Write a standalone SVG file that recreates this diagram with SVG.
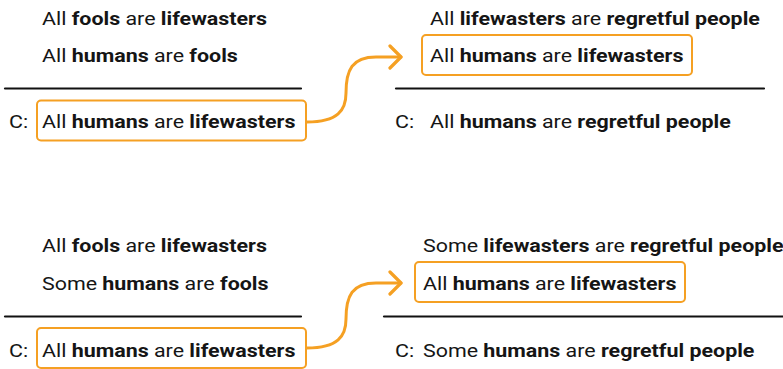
<svg xmlns="http://www.w3.org/2000/svg" width="783" height="369" viewBox="0 0 783 369">
  <defs>
    <style>
      text { font-family: Roboto, "Noto Sans", "Liberation Sans", sans-serif; font-size: 18px; fill: #151515; }
      .b { font-weight: 700; }
      .rule { stroke: #111; stroke-width: 2.2; stroke-linecap: round; fill: none; }
      .hl { fill: none; stroke: #F5A023; stroke-width: 2; }
      .link { fill: none; stroke: #F5A023; stroke-width: 3; stroke-linecap: round; stroke-linejoin: round; }
    </style>
    <marker id="chev" markerWidth="16" markerHeight="26" refX="13" refY="13" orient="auto" markerUnits="userSpaceOnUse">
      <path d="M 2 2 L 13 13 L 2 24" fill="none" stroke="#F5A023" stroke-width="3.2" stroke-linecap="round" stroke-linejoin="round"/>
    </marker>
  </defs>

  <!-- first pair of syllogisms (text widened horizontally) -->
  <g id="syllogism-1a">
    <text transform="translate(42 25) scale(1.19 1)">All <tspan class="b">fools</tspan> are <tspan class="b">lifewasters</tspan></text>
    <text transform="translate(42 62) scale(1.19 1)">All <tspan class="b">humans</tspan> are <tspan class="b">fools</tspan></text>
    <line class="rule" x1="5" y1="88.5" x2="301" y2="88.5"/>
    <text transform="translate(9 128) scale(1.19 1)">C:</text>
    <rect class="hl" x="37" y="100.5" width="269" height="40" rx="4"/>
    <text transform="translate(42 128) scale(1.19 1)">All <tspan class="b">humans</tspan> are <tspan class="b">lifewasters</tspan></text>
  </g>

  <g id="syllogism-1b">
    <text transform="translate(430 25) scale(1.19 1)">All <tspan class="b">lifewasters</tspan> are <tspan class="b">regretful people</tspan></text>
    <rect class="hl" x="422" y="35" width="270" height="40" rx="4"/>
    <text transform="translate(430 62) scale(1.19 1)">All <tspan class="b">humans</tspan> are <tspan class="b">lifewasters</tspan></text>
    <line class="rule" x1="396" y1="88.5" x2="764" y2="88.5"/>
    <text transform="translate(395 128) scale(1.19 1)">C:</text>
    <text transform="translate(430 128) scale(1.19 1)">All <tspan class="b">humans</tspan> are <tspan class="b">regretful people</tspan></text>
  </g>

  <!-- second pair of syllogisms -->
  <g id="syllogism-2a">
    <text transform="translate(42 252) scale(1.19 1)">All <tspan class="b">fools</tspan> are <tspan class="b">lifewasters</tspan></text>
    <text transform="translate(42 290) scale(1.19 1)">Some <tspan class="b">humans</tspan> are <tspan class="b">fools</tspan></text>
    <line class="rule" x1="5" y1="316.5" x2="301" y2="316.5"/>
    <text transform="translate(9 357) scale(1.19 1)">C:</text>
    <rect class="hl" x="37" y="328" width="269" height="40" rx="4"/>
    <text transform="translate(42 357) scale(1.19 1)">All <tspan class="b">humans</tspan> are <tspan class="b">lifewasters</tspan></text>
  </g>

  <g id="syllogism-2b">
    <text transform="translate(423 252) scale(1.19 1)">Some <tspan class="b">lifewasters</tspan> are <tspan class="b">regretful people</tspan></text>
    <rect class="hl" x="415" y="262" width="270" height="40" rx="4"/>
    <text transform="translate(423 290) scale(1.19 1)">All <tspan class="b">humans</tspan> are <tspan class="b">lifewasters</tspan></text>
    <line class="rule" x1="384" y1="316.5" x2="790" y2="316.5"/>
    <text transform="translate(395 357) scale(1.19 1)">C:</text>
    <text transform="translate(423 357) scale(1.19 1)">Some <tspan class="b">humans</tspan> are <tspan class="b">regretful people</tspan></text>
  </g>

  <!-- connectors: each conclusion feeds the next premise -->
  <g id="connectors">
    <path class="link" marker-end="url(#chev)" d="M 307 122 C 338 122 346 110 346 93 C 346 70 352 57 376 57 L 401 57"/>
    <path class="link" marker-end="url(#chev)" d="M 307 348 C 338 348 346 336 346 319 C 346 296 352 283 376 283 L 401 283"/>
  </g>
</svg>
